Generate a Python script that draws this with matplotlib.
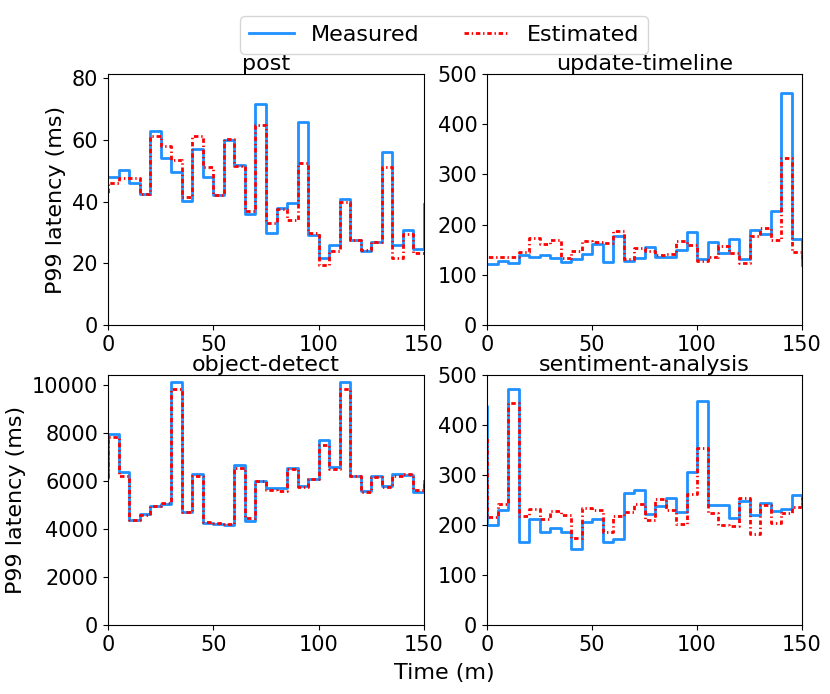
import numpy as np
import matplotlib
matplotlib.use("Agg")
import matplotlib.pyplot as plt

# time axis (minutes); first point is the step before t=0
time = [-5] + list(range(0, 155, 5))

post_measured = [48, 47.9, 50.2, 45.9, 42.6, 63.0, 54.0, 49.7, 40.1, 57.0, 47.9, 42.0, 60.1, 52.0, 36.1,
                 71.7, 29.9, 37.8, 39.6, 65.8, 29.1, 21.8, 26.0, 40.9, 27.7, 23.9, 26.8, 56.1, 26.0,
                 30.8, 24.6, 39.1]
post_estimated = [42.7, 46.0, 47.6, 47.6, 42.6, 61.2, 58.2, 53.6, 41.6, 61.2, 51.2, 42.2, 60.3, 51.6, 37.1,
                  64.9, 33.0, 37.5, 33.9, 52.5, 29.9, 19.6, 24.0, 40.0, 27.7, 24.2, 26.8, 51.3, 21.6,
                  29.5, 23.5, 23.5]

timeline_measured = [120.8, 120.8, 127.4, 122.8, 139.3, 135.4, 139.3, 132.7, 126.1, 130.7, 142, 160.6, 126.1,
                     177.8, 127.4, 134, 154.6, 134.7, 134.7, 149.3, 184.5, 130.7, 165.9, 142.7, 170.5,
                     131.4, 189.1, 181.2, 226.9, 461.2, 171.2, 119.4]
timeline_estimated = [135.4, 135.4, 136, 136, 146, 172.5, 161.3, 169.2, 132.7, 148, 167.2, 165.9, 162.6,
                      187.8, 130.7, 152.6, 148, 139.3, 140.7, 167.2, 159.3, 128.1, 136, 157.3, 142.7,
                      122.8, 177.2, 193.8, 169.2, 331.8, 146, 130]

detect_measured = [6130, 7944, 6383, 4362, 4627, 4948, 5059, 10146, 4725, 6300, 4251, 4223, 4181, 6648,
                   4320, 6007, 5700, 5728, 6536, 5812, 6090, 7707, 6578, 10146, 6188, 5589, 6202, 5812,
                   6300, 6230, 5547, 6020]
detect_estimated = [6130, 7819, 6202, 4362, 4585, 4948, 5087, 9854, 4725, 6202, 4279, 4251, 4223, 6536,
                    4460, 6007, 5617, 5589, 6481, 5756, 6090, 7484, 6509, 9854, 6188, 5561, 6174, 5756,
                    6202, 6272, 5645, 6020]

sentiment_measured = [439, 201, 230, 473, 167, 212, 186, 195, 187, 152, 207, 212, 167, 173, 264, 271, 222,
                      239, 254, 226, 306, 449, 240, 240, 215, 248, 220, 244, 228, 232, 261, 240]
sentiment_estimated = [376, 216, 243, 444, 218, 233, 212, 228, 220, 175, 235, 230, 186, 218, 226, 243, 210,
                       253, 230, 203, 262, 354, 224, 200, 198, 254, 182, 241, 205, 225, 236, 256]

titles = ["post", "update-timeline", "object-detect", "sentiment-analysis"]
measured = [post_measured, timeline_measured, detect_measured, sentiment_measured]
estimated = [post_estimated, timeline_estimated, detect_estimated, sentiment_estimated]
ylims = [(0, 81.4), (0, 500), (0, 10417), (0, 500)]
yticks = [[0, 20, 40, 60, 80], [0, 100, 200, 300, 400, 500],
          [0, 2000, 4000, 6000, 8000, 10000], [0, 100, 200, 300, 400, 500]]
xticks = [0, 50, 100, 150]

W, H = 830, 694
fig = plt.figure(figsize=(W / 100, H / 100), dpi=100)

boxes = [(108, 74, 424, 325), (487, 74, 802, 325),
         (108, 375, 424, 625), (487, 375, 802, 625)]

dashdot = (0, (1.6, 1.0, 0.5, 1.0))

axes = []
for i, (x0, y0, x1, y1) in enumerate(boxes):
    ax = fig.add_axes([x0 / W, 1 - y1 / H, (x1 - x0) / W, (y1 - y0) / H])
    l1, = ax.step(time, measured[i], where="post", color="#1E90FF", lw=2, label="Measured")
    l2, = ax.step(time, estimated[i], where="post", color="red", lw=2, ls=dashdot, label="Estimated")
    ax.set_xlim(0, 150)
    ax.set_ylim(*ylims[i])
    ax.set_xticks(xticks)
    ax.set_yticks(yticks[i])
    ax.tick_params(labelsize=15)
    ax.set_title(titles[i], fontsize=16, pad=2)
    if i % 2 == 0:
        ax.set_ylabel("P99 latency (ms)", fontsize=16)
    axes.append(ax)

fig.text(444 / W, 1 - 673 / H, "Time (m)", ha="center", va="center", fontsize=16)
fig.legend(handles=[l1, l2], loc="upper center", bbox_to_anchor=(444 / W, 1 - 5 / H),
           ncol=2, fontsize=16, frameon=True, columnspacing=2.0, handlelength=2.0)

fig.savefig("out.png", dpi=100)
